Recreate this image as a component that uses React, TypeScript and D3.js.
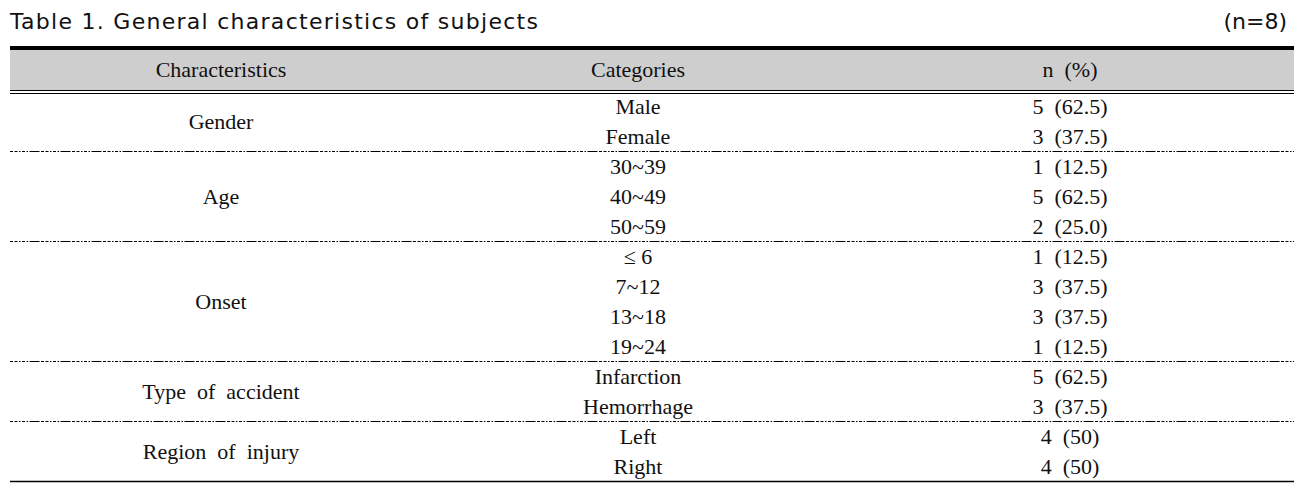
import React from "react";
import * as d3 from "d3";

const titleText = "Table 1. General characteristics of subjects";
const sampleNote = "(n=8)";
const headers = ["Characteristics", "Categories", "n  (%)"];
const characteristics = ["Gender", "Age", "Onset", "Type  of  accident", "Region  of  injury"];
const groupSizes = [2, 3, 4, 2, 2];
const categories = ["Male", "Female", "30~39", "40~49", "50~59", "≤ 6", "7~12", "13~18", "19~24", "Infarction", "Hemorrhage", "Left", "Right"];
const counts = [5, 3, 1, 5, 2, 1, 3, 3, 1, 5, 3, 4, 4];
const percents = ["62.5", "37.5", "12.5", "62.5", "25.0", "12.5", "37.5", "37.5", "12.5", "62.5", "37.5", "50", "50"];

const W = 1307;
const H = 490;
const left = 10;
const right = 1294;
const bodyTop = 92;
const rowH = 30;
const serif = "Liberation Serif";

export default function App() {
  const nRows = categories.length;
  const y = d3.scaleLinear().domain([0, nRows]).range([bodyTop, bodyTop + nRows * rowH]);
  const colX = d3.scaleOrdinal<number, number>().domain([0, 1, 2]).range([221, 638, 1070]);

  const groupStarts: number[] = [];
  let acc = 0;
  groupSizes.forEach((s) => {
    groupStarts.push(acc);
    acc += s;
  });

  const dash = "3,1.5,3,1.5,1.5,1.5,3,1.5,1.5,1.5,10,1.5";
  const textStyle: React.CSSProperties = { whiteSpace: "pre", fontFamily: serif };

  return (
    <svg width={W} height={H} style={{ display: "block", position: "absolute", left: 0, top: 0 }}>
      <rect x={0} y={0} width={W} height={H} fill="#ffffff" />
      <text x={10} y={29} style={{ fontFamily: "DejaVu Sans" }} fontSize={22} fill="#111" textLength={528} lengthAdjust="spacing">
        {titleText}
      </text>
      <text x={1287} y={29} textAnchor="end" style={{ fontFamily: "DejaVu Sans" }} fontSize={22} fill="#111">
        {sampleNote}
      </text>
      {/* header */}
      <rect x={left} y={50} width={right - left} height={40} fill="#cecece" />
      <rect x={left} y={46} width={right - left} height={4} fill="#000" />
      <line x1={left} x2={right} y1={90.5} y2={90.5} stroke="#000" strokeWidth={1.2} />
      <line x1={left} x2={right} y1={93.5} y2={93.5} stroke="#000" strokeWidth={1.2} />
      {headers.map((h, i) => (
        <text key={h} x={colX(i)} y={77} textAnchor="middle" fontSize={22} fill="#111" style={textStyle}>
          {h}
        </text>
      ))}
      {/* groups */}
      {characteristics.map((c, gi) => {
        const s = groupStarts[gi];
        const cy = (y(s) + y(s + groupSizes[gi])) / 2;
        return (
          <text key={c} x={colX(0)} y={cy + 7} textAnchor="middle" fontSize={22} fill="#111" style={textStyle}>
            {c}
          </text>
        );
      })}
      {categories.map((cat, i) => {
        const cy = (y(i) + y(i + 1)) / 2;
        return (
          <g key={i}>
            <text x={colX(1)} y={cy + 7} textAnchor="middle" fontSize={22} fill="#111" style={textStyle}>
              {cat}
            </text>
            <text x={colX(2)} y={cy + 7} textAnchor="middle" fontSize={22} fill="#111" style={textStyle}>
              {`${counts[i]}  (${percents[i]})`}
            </text>
          </g>
        );
      })}
      {/* separators */}
      {groupStarts.slice(1).map((s, i) => (
        <line key={i} x1={left} x2={right} y1={y(s) - 0.5} y2={y(s) - 0.5} stroke="#000" strokeWidth={1} strokeDasharray={dash} />
      ))}
      <line x1={left} x2={right} y1={y(nRows) - 0.5} y2={y(nRows) - 0.5} stroke="#000" strokeWidth={1.5} />
    </svg>
  );
}
